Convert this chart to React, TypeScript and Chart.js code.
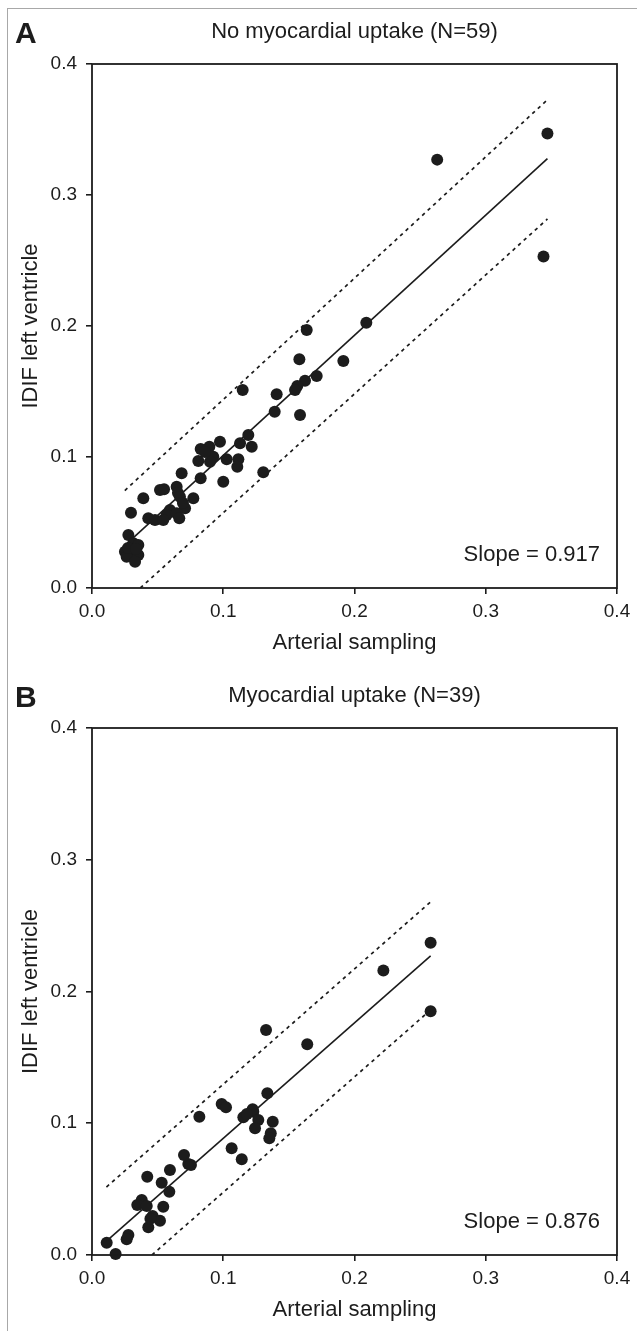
import React, { useEffect, useRef } from 'react';
import { Chart, registerables } from 'chart.js';

Chart.register(...registerables);

const FONT = '"Liberation Sans", Arial, Helvetica, sans-serif';
const INK = '#1c1c1c';

const X_TICKS = [0, 0.1, 0.2, 0.3, 0.4];
const Y_TICKS = [0, 0.1, 0.2, 0.3, 0.4];

// Panel A: no myocardial uptake (N=59)
const aArterial = [
  0.347, 0.344, 0.263, 0.209, 0.1636, 0.158, 0.1915, 0.1712, 0.1623, 0.1564,
  0.1547, 0.1148, 0.1407, 0.1392, 0.1585, 0.1191, 0.1128, 0.1217, 0.0975, 0.0894,
  0.0828, 0.0924, 0.0899, 0.081, 0.1026, 0.1115, 0.1107, 0.1305, 0.1, 0.0828,
  0.0683, 0.0645, 0.0655, 0.067, 0.0772, 0.0518, 0.0549, 0.0391, 0.0297, 0.0709,
  0.0594, 0.0569, 0.0645, 0.0429, 0.048, 0.0543, 0.0665, 0.0277, 0.0315, 0.0353,
  0.0251, 0.0302, 0.0353, 0.0264, 0.0328, 0.0274, 0.0335, 0.0693, 0.0861,
];
const aIdif = [
  0.347, 0.253, 0.327, 0.2025, 0.197, 0.1746, 0.1733, 0.1618, 0.1582, 0.1542,
  0.1511, 0.1511, 0.1479, 0.1346, 0.1321, 0.1168, 0.1105, 0.1079, 0.1117, 0.1079,
  0.1061, 0.1002, 0.0964, 0.0969, 0.0982, 0.0982, 0.0926, 0.0883, 0.0811, 0.0837,
  0.0876, 0.0773, 0.0725, 0.0697, 0.0685, 0.0748, 0.0753, 0.0685, 0.0575, 0.0608,
  0.0595, 0.0557, 0.057, 0.0532, 0.0519, 0.0519, 0.0532, 0.0405, 0.0341, 0.0328,
  0.0277, 0.0252, 0.0252, 0.0239, 0.0201, 0.0305, 0.0298, 0.0649, 0.1038,
];
const aFitX = [0.027, 0.347];
const aFitY = [0.0343, 0.3277];
const aUpperX = [0.025, 0.347];
const aUpperY = [0.0744, 0.3727];
const aLowerX = [0.0368, 0.347];
const aLowerY = [0.0, 0.2817];

// Panel B: myocardial uptake (N=39)
const bArterial = [
  0.258, 0.258, 0.222, 0.1326, 0.164, 0.1336, 0.1229, 0.1267, 0.1242, 0.1377,
  0.1362, 0.1351, 0.0988, 0.1021, 0.0818, 0.1224, 0.1153, 0.1064, 0.1141, 0.0701,
  0.0734, 0.0754, 0.0594, 0.0421, 0.0531, 0.0589, 0.0379, 0.0345, 0.0417, 0.0543,
  0.0462, 0.0518, 0.0429, 0.0277, 0.0264, 0.0112, 0.018, 0.118, 0.0445,
];
const bIdif = [
  0.185, 0.237, 0.216, 0.1708, 0.16, 0.1227, 0.1088, 0.1025, 0.0962, 0.1012,
  0.0924, 0.0886, 0.1146, 0.1121, 0.105, 0.1106, 0.1045, 0.081, 0.0726, 0.0759,
  0.0691, 0.0683, 0.0645, 0.0594, 0.0549, 0.048, 0.0417, 0.038, 0.0372, 0.0367,
  0.0296, 0.026, 0.021, 0.0152, 0.0119, 0.0093, 0.0008, 0.107, 0.0275,
];
const bFitX = [0.011, 0.258];
const bFitY = [0.0106, 0.227];
const bUpperX = [0.011, 0.258];
const bUpperY = [0.0516, 0.268];
const bLowerX = [0.0457, 0.258];
const bLowerY = [0.0, 0.186];

type PanelProps = {
  top: number;
  height: number;
  plotTop: number;
  plotBottom: number;
  xTitleY: number;
  letter: string;
  title: string;
  slope: string;
  xs: number[];
  ys: number[];
  fitX: number[];
  fitY: number[];
  upX: number[];
  upY: number[];
  loX: number[];
  loY: number[];
};

const zip = (xs: number[], ys: number[]) => xs.map((x, i) => ({ x, y: ys[i] }));

function Panel(p: PanelProps) {
  const ref = useRef<HTMLCanvasElement>(null);
  useEffect(() => {
    const canvas = ref.current;
    if (!canvas) return;
    const xAxisH = p.top + p.height - p.plotBottom;
    const titleSize = 22;
    const tickSize = 19;
    const titleLH = titleSize * 1.2;
    const xTitlePadBottom = p.top + p.height - p.xTitleY - titleLH / 2;

    const deco = {
      id: 'deco',
      afterDraw(chart: any) {
        const { ctx, chartArea: a } = chart;
        ctx.save();
        ctx.strokeStyle = INK;
        ctx.lineWidth = 1.8;
        ctx.strokeRect(a.left, a.top, a.right - a.left, a.bottom - a.top);
        ctx.fillStyle = INK;
        ctx.textBaseline = 'middle';
        ctx.textAlign = 'center';
        ctx.font = `${titleSize}px ${FONT}`;
        ctx.fillText(p.title, (a.left + a.right) / 2, a.top - 32);
        ctx.textAlign = 'left';
        ctx.font = `bold 30px ${FONT}`;
        ctx.fillText(p.letter, 15, a.top - 29);
        ctx.textAlign = 'right';
        ctx.font = `${titleSize}px ${FONT}`;
        ctx.fillText(p.slope, a.right - 17, a.bottom - 33);
        ctx.restore();
      },
    };

    const lineDs = (xs: number[], ys: number[], dashed: boolean) => ({
      data: zip(xs, ys),
      showLine: true,
      pointRadius: 0,
      borderColor: INK,
      borderWidth: dashed ? 1.7 : 1.6,
      borderDash: dashed ? [3.5, 4] : [],
      fill: false,
    });

    const chart = new Chart(canvas, {
      type: 'scatter',
      data: {
        datasets: [
          lineDs(p.upX, p.upY, true),
          lineDs(p.loX, p.loY, true),
          lineDs(p.fitX, p.fitY, false),
          {
            data: zip(p.xs, p.ys),
            pointRadius: 6,
            pointBackgroundColor: INK,
            pointBorderWidth: 0,
            showLine: false,
            clip: false,
          } as any,
        ],
      },
      options: {
        responsive: false,
        animation: false,
        events: [],
        layout: { padding: { top: p.plotTop - p.top, left: 0, right: 637 - 617, bottom: 0 } },
        plugins: { legend: { display: false }, tooltip: { enabled: false }, title: { display: false } },
        scales: {
          x: {
            type: 'linear',
            min: 0,
            max: 0.4,
            afterBuildTicks: (s: any) => {
              s.ticks = X_TICKS.map((v) => ({ value: v }));
            },
            afterFit: (s: any) => {
              s.height = xAxisH;
            },
            ticks: {
              callback: (v: any) => Number(v).toFixed(1),
              font: { family: FONT, size: tickSize },
              color: INK,
              padding: 6,
              maxRotation: 0,
              autoSkip: false,
            },
            grid: { drawOnChartArea: false, drawTicks: true, tickLength: 6, color: INK, lineWidth: 1.6 },
            border: { display: false },
            title: {
              display: true,
              text: 'Arterial sampling',
              color: INK,
              font: { family: FONT, size: titleSize },
              padding: { top: 0, bottom: xTitlePadBottom },
            },
          },
          y: {
            type: 'linear',
            min: 0,
            max: 0.4,
            afterBuildTicks: (s: any) => {
              s.ticks = Y_TICKS.map((v) => ({ value: v }));
            },
            afterFit: (s: any) => {
              s.width = 92;
            },
            ticks: {
              callback: (v: any) => Number(v).toFixed(1),
              font: { family: FONT, size: tickSize },
              color: INK,
              padding: 9,
              autoSkip: false,
            },
            grid: { drawOnChartArea: false, drawTicks: true, tickLength: 6, color: INK, lineWidth: 1.6 },
            border: { display: false },
            title: {
              display: true,
              text: 'IDIF left ventricle',
              color: INK,
              font: { family: FONT, size: titleSize },
              padding: { top: 18, bottom: 0 },
            },
          },
        },
      } as any,
      plugins: [deco],
    });
    return () => chart.destroy();
  }, []);
  return (
    <canvas
      ref={ref}
      width={637}
      height={p.height}
      style={{ position: 'absolute', left: 0, top: p.top, width: 637, height: p.height, display: 'block' }}
    />
  );
}

export default function App() {
  return (
    <div style={{ position: 'absolute', left: 0, top: 0, width: 637, height: 1331, background: '#fff', overflow: 'hidden' }}>
      <div
        style={{
          position: 'absolute',
          left: 7,
          top: 8,
          width: 640,
          height: 1330,
          borderLeft: '1px solid #a8a8a8',
          borderTop: '1px solid #a8a8a8',
        }}
      />
      <Panel
        top={0}
        height={660}
        plotTop={64}
        plotBottom={588}
        xTitleY={643}
        letter="A"
        title="No myocardial uptake (N=59)"
        slope="Slope = 0.917"
        xs={aArterial}
        ys={aIdif}
        fitX={aFitX}
        fitY={aFitY}
        upX={aUpperX}
        upY={aUpperY}
        loX={aLowerX}
        loY={aLowerY}
      />
      <Panel
        top={660}
        height={671}
        plotTop={728}
        plotBottom={1255}
        xTitleY={1310}
        letter="B"
        title="Myocardial uptake (N=39)"
        slope="Slope = 0.876"
        xs={bArterial}
        ys={bIdif}
        fitX={bFitX}
        fitY={bFitY}
        upX={bUpperX}
        upY={bUpperY}
        loX={bLowerX}
        loY={bLowerY}
      />
    </div>
  );
}
